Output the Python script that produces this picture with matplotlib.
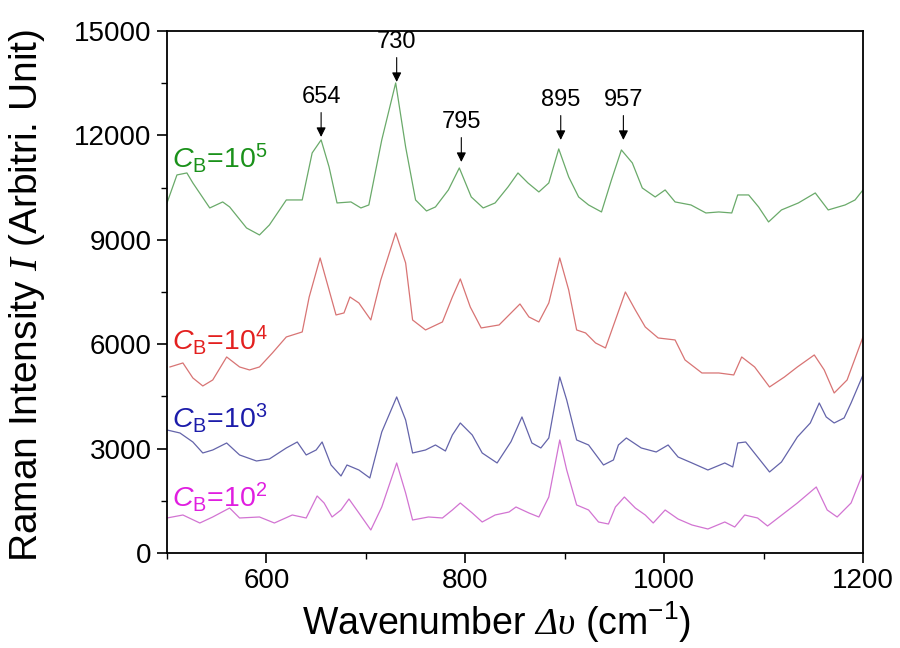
import matplotlib
matplotlib.use('Agg')
import matplotlib.pyplot as plt
from matplotlib.ticker import MultipleLocator

plt.rcParams['font.family'] = ['Liberation Sans', 'DejaVu Sans']
plt.rcParams['mathtext.fontset'] = 'custom'
plt.rcParams['mathtext.rm'] = 'Liberation Sans'
plt.rcParams['mathtext.it'] = 'Liberation Sans:italic'
# serif italic for the I and the delta-upsilon in the axis titles
plt.rcParams['mathtext.cal'] = 'Liberation Serif:italic'

# spectra: (wavenumber, intensity)
wn_1e5 = [500, 510, 520, 526, 543, 556, 563, 580, 593, 603, 620, 636, 646, 655, 663, 671, 685, 695, 703, 716,
          730, 740, 750, 761, 770, 783, 794, 806, 818, 830, 843, 853, 863, 874, 884, 894, 904, 914, 924, 937,
          947, 957, 968, 978, 991, 1001, 1011, 1027, 1042, 1055, 1068, 1074, 1085, 1095, 1105, 1118, 1135, 1152,
          1165, 1182, 1192, 1200]
int_1e5 = [10059, 10864, 10921, 10634, 9915, 10088, 9944, 9340, 9139, 9427, 10145, 10145, 11496, 11870, 11093,
           10059, 10088, 9915, 10001, 11870, 13508, 11668, 10145, 9829, 9944, 10433, 11065, 10231, 9915, 10059,
           10519, 10921, 10634, 10375, 10634, 11611, 10806, 10231, 10001, 9800, 10720, 11582, 11209, 10490, 10231,
           10433, 10088, 10001, 9771, 9800, 9771, 10289, 10289, 9944, 9513, 9858, 10059, 10346, 9858, 10001,
           10145, 10433]

wn_1e4 = [503, 516, 526, 536, 546, 560, 573, 583, 593, 606, 620, 636, 643, 654, 661, 670, 678, 684, 693, 705,
          715, 730, 740, 747, 760, 777, 787, 795, 805, 816, 834, 844, 855, 864, 874, 884, 895, 904, 912, 921,
          931, 941, 951, 961, 971, 981, 994, 1011, 1021, 1038, 1055, 1070, 1078, 1091, 1106, 1121, 1134, 1151,
          1161, 1171, 1184, 1200]
int_1e4 = [5346, 5461, 5030, 4800, 4972, 5633, 5346, 5260, 5346, 5748, 6208, 6352, 7357, 8478, 7760, 6840,
           6898, 7357, 7185, 6696, 7846, 9197, 8335, 6696, 6409, 6639, 7357, 7875, 7070, 6467, 6553, 6840, 7156,
           6783, 6639, 7185, 8478, 7558, 6409, 6323, 6036, 5892, 6696, 7501, 6984, 6495, 6179, 6122, 5547, 5173,
           5173, 5116, 5633, 5346, 4771, 5058, 5346, 5691, 5260, 4598, 4972, 6208]

wn_1e3 = [500, 513, 526, 536, 546, 560, 573, 590, 603, 620, 631, 640, 650, 656, 665, 675, 681, 693, 704, 716,
          731, 740, 747, 760, 770, 780, 787, 795, 807, 817, 832, 846, 857, 867, 876, 884, 895, 902, 912, 924,
          939, 949, 954, 962, 977, 992, 1004, 1014, 1028, 1044, 1061, 1069, 1074, 1082, 1094, 1106, 1118, 1134,
          1147, 1156, 1163, 1171, 1181, 1188, 1200]
int_1e3 = [3535, 3449, 3190, 2874, 2960, 3161, 2817, 2644, 2702, 3018, 3190, 2817, 2960, 3190, 2529, 2213,
           2529, 2385, 2156, 3478, 4484, 3822, 2874, 2960, 3104, 2931, 3391, 3736, 3391, 2874, 2587, 3200, 3909,
           3161, 3018, 3305, 5058, 4397, 3248, 3104, 2529, 2673, 3104, 3305, 3018, 2903, 3104, 2759, 2587, 2385,
           2587, 2472, 3161, 3190, 2759, 2328, 2615, 3334, 3736, 4311, 3909, 3736, 3880, 4311, 5116]

wn_1e2 = [500, 516, 533, 546, 563, 573, 593, 608, 626, 640, 651, 658, 666, 675, 683, 693, 705, 716, 731, 740,
          747, 763, 777, 787, 795, 807, 817, 830, 844, 851, 864, 874, 884, 895, 902, 912, 924, 934, 944, 951,
          960, 971, 981, 989, 1001, 1014, 1028, 1044, 1061, 1071, 1081, 1094, 1104, 1121, 1134, 1153, 1164,
          1174, 1188, 1200]
int_1e2 = [1006, 1092, 862, 1035, 1293, 1006, 1035, 862, 1092, 1006, 1638, 1437, 1035, 1236, 1552, 1150, 661,
           1322, 2587, 1724, 948, 1035, 1006, 1236, 1437, 1150, 891, 1092, 1178, 1322, 1150, 1035, 1609, 3248,
           2385, 1380, 1236, 891, 833, 1322, 1609, 1293, 1092, 862, 1236, 977, 805, 690, 891, 747, 1092, 1006,
           776, 1150, 1437, 1897, 1236, 1035, 1437, 2299]

series_labels = [r'$C_\mathrm{B}$=10$^5$', r'$C_\mathrm{B}$=10$^4$', r'$C_\mathrm{B}$=10$^3$', r'$C_\mathrm{B}$=10$^2$']
label_y = [11065, 5834, 3592, 1322]
line_colors = ['#6aaa6a', '#d87474', '#6464aa', '#d274d2']
text_colors = ['#1a911a', '#e3201f', '#1c1caa', '#e01ee0']

peak_labels = ['654', '730', '795', '895', '957']
peak_x = [655, 731, 796, 896, 959]
peak_tip = [11956, 13536, 11237, 11870, 11870]

fig = plt.figure(figsize=(9, 6.48), dpi=100)
ax = fig.add_axes([167 / 900, 1 - 553 / 648, 696 / 900, 522 / 648])

spectra = [(wn_1e5, int_1e5), (wn_1e4, int_1e4), (wn_1e3, int_1e3), (wn_1e2, int_1e2)]
for (wn, inten), lc, tc, lab, ly in zip(spectra, line_colors, text_colors, series_labels, label_y):
    ax.plot(wn, inten, color=lc, lw=0.9)
    ax.text(505, ly, lab, color=tc, fontsize=20.5, va='baseline', ha='left')

# peak markers
for lab, px, tip in zip(peak_labels, peak_x, peak_tip):
    ax.annotate('', xy=(px, tip), xytext=(px, tip + 700),
                arrowprops=dict(arrowstyle='-|>', color='k', lw=0.8, mutation_scale=14, shrinkA=0, shrinkB=0))
    ax.text(px, tip + 980, lab, ha='center', va='baseline', fontsize=17)

ax.set_xlim(500, 1200)
ax.set_ylim(0, 15000)
ax.set_xticks([600, 800, 1000, 1200])
ax.xaxis.set_minor_locator(MultipleLocator(100))
ax.yaxis.set_major_locator(MultipleLocator(3000))
ax.yaxis.set_minor_locator(MultipleLocator(1500))
ax.tick_params(which='major', direction='out', length=7, width=1.2, labelsize=20, pad=4)
ax.tick_params(which='minor', direction='out', length=4, width=1.0)
for s in ax.spines.values():
    s.set_linewidth(1.3)

fig.text(27 / 900, 1 - 295 / 648, r'Raman Intensity $\mathcal{I}$ (Arbitri. Unit)', rotation=90,
         ha='center', va='center', fontsize=28)
fig.text(497 / 900, 1 - 635 / 648, r'Wavenumber $\mathcal{\Delta\upsilon}$ (cm$^{-1}$)',
         ha='center', va='baseline', fontsize=27)

fig.savefig('out.png', dpi=100)
